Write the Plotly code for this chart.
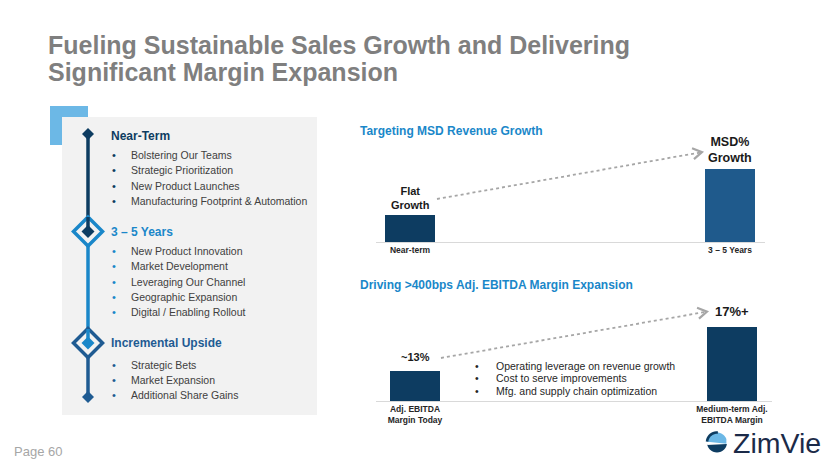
import math
import plotly.graph_objects as go

W, H = 840, 473
FONT = "Liberation Sans, Arial, sans-serif"

# ---------------- data ----------------
title_lines = ["Fueling Sustainable Sales Growth and Delivering",
               "Significant Margin Expansion"]

rev_title = "Targeting MSD Revenue Growth"
rev_categories = ["Near-term", "3 – 5 Years"]
rev_values = [27, 73]            # illustrative bar heights (index)
rev_labels = ["Flat<br>Growth", "MSD%<br>Growth"]

ebitda_title = "Driving >400bps Adj. EBITDA Margin Expansion"
ebitda_categories = ["Adj. EBITDA<br>Margin Today", "Medium-term Adj.<br>EBITDA Margin"]
ebitda_values = [13, 17]         # Adj. EBITDA margin, %
ebitda_labels = ["~13%", "17%+"]
ebitda_drivers = ["Operating leverage on revenue growth",
                  "Cost to serve improvements",
                  "Mfg. and supply chain optimization"]

near_items = ["Bolstering Our Teams", "Strategic Prioritization",
              "New Product Launches", "Manufacturing Footprint & Automation"]
mid_items = ["New Product Innovation", "Market Development", "Leveraging Our Channel",
             "Geographic Expansion", "Digital / Enabling Rollout"]
upside_items = ["Strategic Bets", "Market Expansion", "Additional Share Gains"]

# ---------------- helpers ----------------
def X(px):
    return px / W

def Y(py):
    return 1 - py / H

NAVY = "#0d3c61"
BLUE = "#1a87c9"
MID = "#1f5b92"
LIGHT = "#6cb8e6"
GRAY_TXT = "#404040"

fig = go.Figure()

# bars: revenue growth
fig.add_trace(go.Bar(x=rev_categories, y=rev_values, xaxis="x", yaxis="y",
                     marker=dict(color=[NAVY, "#1f5a8c"], line=dict(width=0)),
                     width=0.156, hoverinfo="skip", showlegend=False))
# bars: EBITDA margin
fig.add_trace(go.Bar(x=ebitda_categories, y=ebitda_values, xaxis="x2", yaxis="y2",
                     marker=dict(color=[NAVY, NAVY], line=dict(width=0)),
                     width=0.16, hoverinfo="skip", showlegend=False))

shapes = []
annotations = []

def ann(text, px, py, size, color, bold=False, xanchor="left", yanchor="middle", align="left", **kw):
    t = f"<b>{text}</b>" if bold else text
    annotations.append(dict(text=t, x=X(px), y=Y(py), xref="paper", yref="paper",
                            xanchor=xanchor, yanchor=yanchor, align=align, showarrow=False,
                            font=dict(family=FONT, size=size, color=color), **kw))

def path_shape(pts, fill=None, line_color=None, width=0, closed=True):
    d = "M " + " L ".join(f"{X(a):.5f},{Y(b):.5f}" for a, b in pts)
    if closed:
        d += " Z"
    s = dict(type="path", path=d, xref="paper", yref="paper", layer="above",
             line=dict(width=width, color=line_color or "rgba(0,0,0,0)"))
    if fill:
        s["fillcolor"] = fill
    shapes.append(s)

def rect(x0, y0, x1, y1, fill, layer="below"):
    shapes.append(dict(type="rect", x0=X(x0), x1=X(x1), y0=Y(y1), y1=Y(y0),
                       xref="paper", yref="paper", fillcolor=fill, line=dict(width=0), layer=layer))

def vline(x, y0, y1, color, width):
    shapes.append(dict(type="line", x0=X(x), x1=X(x), y0=Y(y0), y1=Y(y1), xref="paper",
                       yref="paper", line=dict(color=color, width=width), layer="above"))

def diamond(cx, cy, r, fill=None, outline=None, width=0):
    pts = [(cx, cy - r), (cx + r, cy), (cx, cy + r), (cx - r, cy)]
    path_shape(pts, fill=fill, line_color=outline, width=width)

def arc_pts(cx, cy, r, a0, a1, n=14):
    # angles in degrees, screen coords (y down); 0 = right, 90 = down
    return [(cx + r * math.cos(math.radians(a0 + (a1 - a0) * k / n)),
             cy + r * math.sin(math.radians(a0 + (a1 - a0) * k / n))) for k in range(n + 1)]

def dotted_arrow(x0, y0, x1, y1):
    shapes.append(dict(type="line", x0=X(x0), y0=Y(y0), x1=X(x1), y1=Y(y1), xref="paper",
                       yref="paper", line=dict(color="#a6a6a6", width=1.8, dash="dot"), layer="above"))
    dx, dy = x1 - x0, y1 - y0
    n = math.hypot(dx, dy)
    bx, by = -dx / n, -dy / n
    pts = []
    for a in (math.radians(38), -math.radians(38)):
        rx = bx * math.cos(a) - by * math.sin(a)
        ry = bx * math.sin(a) + by * math.cos(a)
        pts.append((x1 + 9 * rx, y1 + 9 * ry))
    d = (f"M {X(pts[0][0]):.5f},{Y(pts[0][1]):.5f} L {X(x1 + 2*dx/n):.5f},{Y(y1 + 2*dy/n):.5f} "
         f"L {X(pts[1][0]):.5f},{Y(pts[1][1]):.5f}")
    shapes.append(dict(type="path", path=d, xref="paper", yref="paper", layer="above",
                       line=dict(color="#a6a6a6", width=2.2)))

# ---------------- title ----------------
ann(title_lines[0], 46, 45.5, 25, "#7f7f7f", bold=True)
ann(title_lines[1], 46, 72.5, 25, "#7f7f7f", bold=True)

# ---------------- left panel ----------------
rect(50, 106, 88, 145, LIGHT)
rect(62, 117, 317, 415, "#f2f2f2")

vline(88, 134, 232, NAVY, 3.5)
vline(88, 232, 343, BLUE, 3.5)
vline(88, 343, 397, MID, 3.5)
diamond(88, 134, 6, fill=NAVY)
diamond(88, 231.5, 14.5, fill="#f2f2f2", outline=BLUE, width=3.5)
diamond(88, 231.5, 6.5, fill=NAVY)
vline(88, 217, 231, NAVY, 3.5)
diamond(88, 343, 14.5, fill="#f2f2f2", outline=MID, width=3.5)
diamond(88, 343, 6.5, fill=BLUE)
vline(88, 329, 343, BLUE, 3.5)
diamond(88, 397, 6, fill=MID)

groups = [
    ("Near-Term", NAVY, 135.5, near_items, 155),
    ("3 – 5 Years", BLUE, 232, mid_items, 251),
    ("Incremental Upside", MID, 343, upside_items, 364.5),
]
for head, col, hy, items, y0 in groups:
    ann(head, 109, hy, 12, col, bold=True)
    for i, it in enumerate(items):
        yy = y0 + i * 15.3
        ann("•", 114, yy, 11, col, xanchor="center")
        ann(it, 129, yy, 10.5, GRAY_TXT)

# ---------------- right charts ----------------
ann(rev_title, 358, 131, 12, BLUE, bold=True)
ann(ebitda_title, 358, 285, 12, BLUE, bold=True)

# labels above bars via data coords
label_sizes_rev = [11, 12.5]
for c, v, t, s in zip(rev_categories, rev_values, rev_labels, label_sizes_rev):
    annotations.append(dict(text=f"<b>{t}</b>", x=c, y=v, xref="x", yref="y", showarrow=False,
                            xanchor="center", yanchor="bottom", yshift=2,
                            font=dict(family=FONT, size=s, color="#1a1a1a")))
label_sizes_eb = [11, 13]
for c, v, t, s in zip(ebitda_categories, ebitda_values, ebitda_labels, label_sizes_eb):
    annotations.append(dict(text=f"<b>{t}</b>", x=c, y=v, xref="x2", yref="y2", showarrow=False,
                            xanchor="center", yanchor="bottom", yshift=6,
                            font=dict(family=FONT, size=s, color="#1a1a1a")))

for i, d in enumerate(ebitda_drivers):
    yy = 365.5 + i * 12.8
    ann("•", 477, yy, 10.5, "#262626", xanchor="center")
    ann(d, 494, yy, 10.5, "#262626")

dotted_arrow(437, 199, 700, 152.5)
dotted_arrow(441, 358, 705, 312)

# ---------------- footer ----------------
ann("Page 60", 12, 451, 13, "#a6a6a6")
ann("ZimVie", 731, 443, 28.5, "#1b2a48")
# logo mark: circle split by a diagonal gap
cx, cy, r = 717, 442.5, 10
top = arc_pts(cx, cy, r, 195, 360 - 20) + [(cx + r * math.cos(math.radians(-20)), cy + 1.2), (cx - r * 0.95, cy - 0.8)]
path_shape(top, fill=LIGHT)
navy_arc = arc_pts(cx, cy, r, 185, 275, 10)
shapes.append(dict(type="path", xref="paper", yref="paper", layer="above",
                   path="M " + " L ".join(f"{X(a):.5f},{Y(b):.5f}" for a, b in navy_arc),
                   line=dict(color=NAVY, width=2.6)))
bottom = [(cx - r, cy + 2.5), (cx + r * 0.98, cy + 1.5)] + arc_pts(cx, cy, r, 10, 170)
path_shape(bottom, fill=NAVY)

axis_common = dict(showgrid=False, zeroline=False, ticks="", fixedrange=True)
fig.update_layout(
    width=W, height=H, margin=dict(l=0, r=0, t=0, b=0),
    paper_bgcolor="white", plot_bgcolor="rgba(0,0,0,0)",
    showlegend=False, bargap=0,
    xaxis=dict(domain=[X(376), X(765)], anchor="y", type="category",
               range=[(376 - 410) / 320, 1 + (765 - 730) / 320],
               showline=True, linecolor="#d9d9d9", linewidth=1,
               tickvals=rev_categories, ticktext=[f"<b>{c}</b>" for c in rev_categories],
               tickfont=dict(family=FONT, size=8.5, color="#262626"), **axis_common),
    yaxis=dict(domain=[Y(242), Y(142)], anchor="x", range=[0, 100], visible=False, **axis_common),
    xaxis2=dict(domain=[X(376), X(772)], anchor="y2", type="category",
                range=[(376 - 415) / 317, 1 + (772 - 732) / 317],
                showline=True, linecolor="#d9d9d9", linewidth=1,
                tickvals=ebitda_categories, ticktext=[f"<b>{c}</b>" for c in ebitda_categories],
                tickfont=dict(family=FONT, size=8.5, color="#262626"), **axis_common),
    yaxis2=dict(domain=[Y(401), Y(301)], anchor="x2",
                range=[13 - 30 / 11, 13 - 30 / 11 + 100 / 11], visible=False, **axis_common),
    shapes=shapes, annotations=annotations,
)

fig.write_html("out.html")
